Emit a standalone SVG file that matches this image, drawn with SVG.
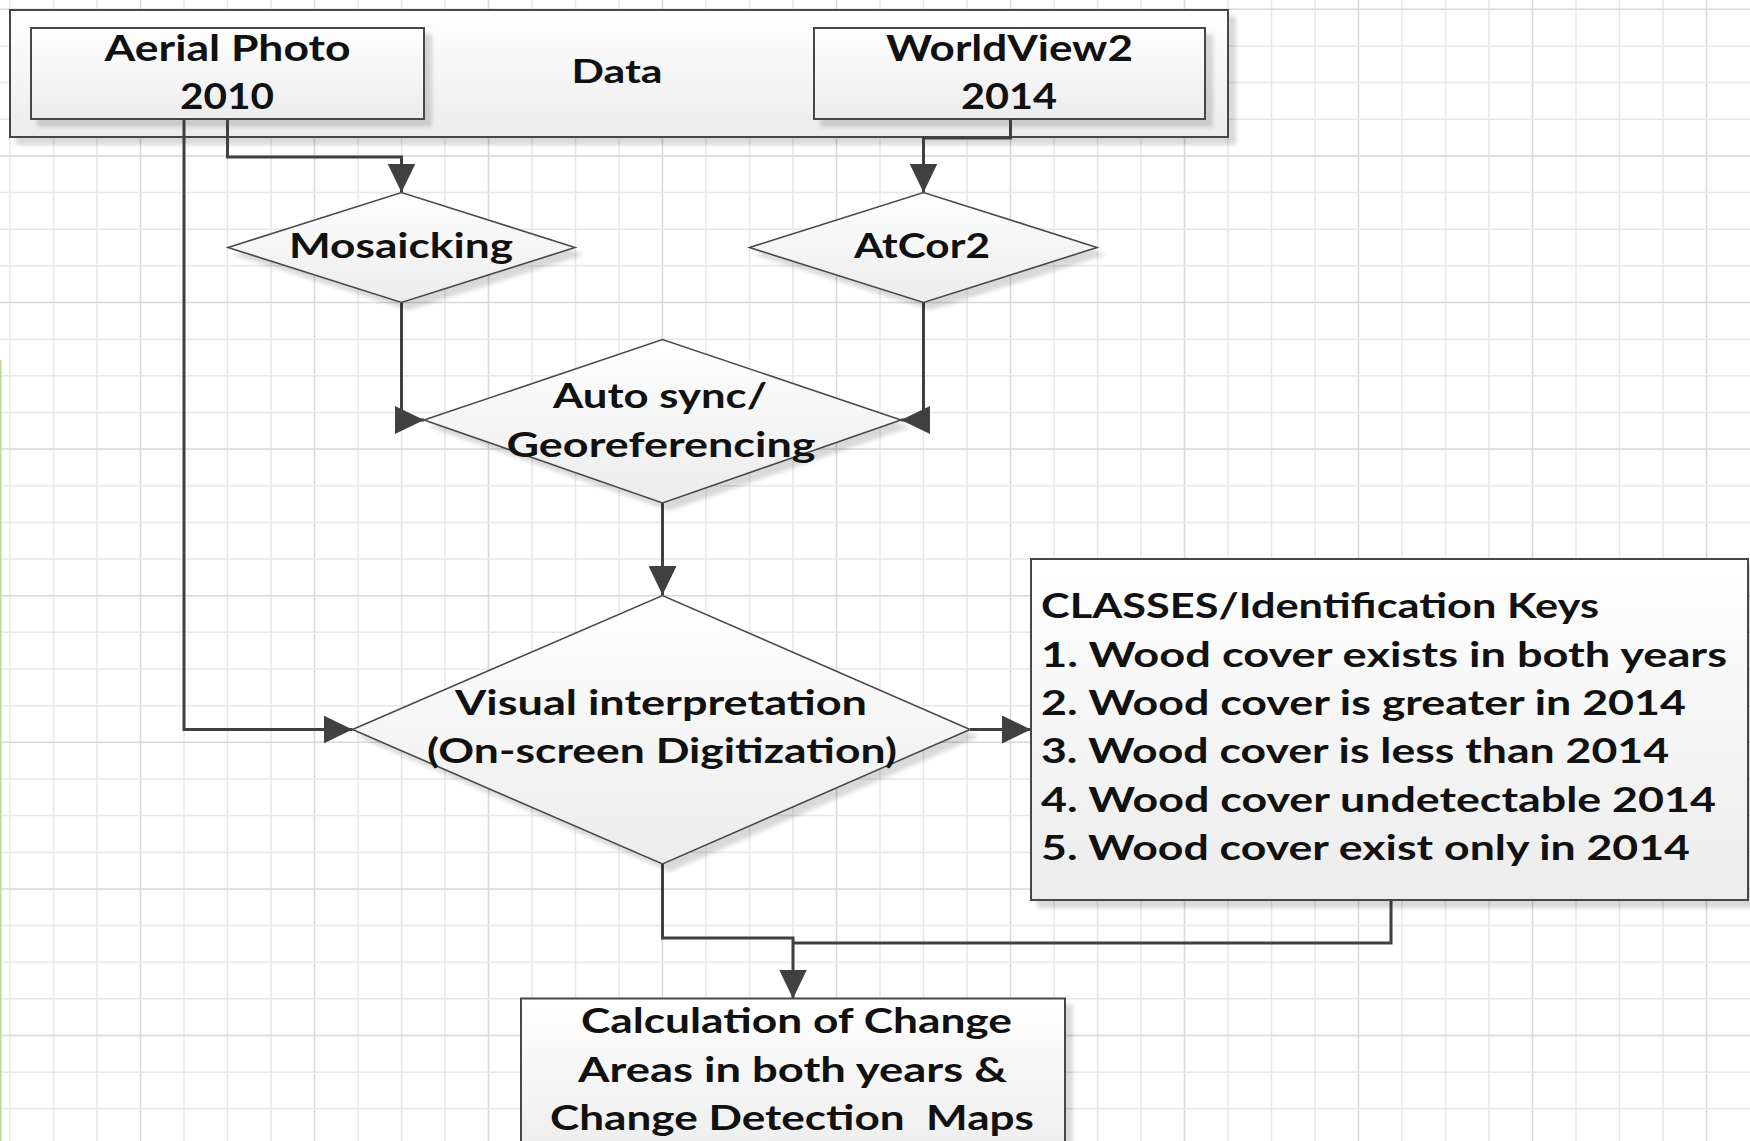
<svg xmlns="http://www.w3.org/2000/svg" width="1750" height="1141" viewBox="0 0 1750 1141">
<style>
.grid{fill:none;stroke:#e7e7e7;stroke-width:1.5}
.grid2{fill:none;stroke:#d8d8d8;stroke-width:1.5}
.box{fill:url(#fillg);stroke:#474747;stroke-width:2}
.dia{fill:url(#fillg);stroke:#4a4a4a;stroke-width:1.6}
.t{font-family:Lato,"Open Sans","Noto Sans",sans-serif;font-weight:700;font-size:34px;fill:#111111;text-anchor:middle}
.tl{text-anchor:start}
.big{font-size:36px}
.conn{fill:none;stroke:#404040;stroke-width:3;stroke-linejoin:miter}
</style>
<defs>
<linearGradient id="fillg" x1="0" y1="0" x2="0" y2="1">
<stop offset="0" stop-color="#ffffff"/>
<stop offset="1" stop-color="#ececec"/>
</linearGradient>
<filter id="sh" x="-5%" y="-10%" width="115%" height="130%">
<feGaussianBlur in="SourceAlpha" stdDeviation="2"/>
<feOffset dx="7" dy="7"/>
<feComponentTransfer><feFuncA type="linear" slope="0.15"/></feComponentTransfer>
<feMerge><feMergeNode/><feMergeNode in="SourceGraphic"/></feMerge>
</filter>
<marker id="arr" markerUnits="userSpaceOnUse" markerWidth="30" markerHeight="28" refX="29" refY="14" orient="auto">
<path d="M0,0 L29,14 L0,28 z" fill="#404040"/>
</marker>
</defs>
<rect width="1750" height="1141" fill="#ffffff"/>
<g id="grid">
<path class="grid" d="M10,0V1141M53.5,0V1141M97,0V1141M184,0V1141M227.5,0V1141M271,0V1141M358,0V1141M401.5,0V1141M445,0V1141M532,0V1141M575.5,0V1141M619,0V1141M706,0V1141M749.5,0V1141M793,0V1141M880,0V1141M923.5,0V1141M967,0V1141M1054,0V1141M1097.5,0V1141M1141,0V1141M1228,0V1141M1271.5,0V1141M1315,0V1141M1402,0V1141M1445.5,0V1141M1489,0V1141M1576,0V1141M1619.5,0V1141M1663,0V1141"/>
<path class="grid2" d="M140.5,0V1141M314.5,0V1141M488.5,0V1141M662.5,0V1141M836.5,0V1141M1010.5,0V1141M1184.5,0V1141M1358.5,0V1141M1532.5,0V1141M1706.5,0V1141"/>
<path class="grid" d="M0,45.95H1750M0,82.6H1750M0,119.25H1750M0,192.55H1750M0,229.2H1750M0,265.85H1750M0,339.15H1750M0,375.8H1750M0,412.45H1750M0,485.75H1750M0,522.4H1750M0,559.05H1750M0,632.35H1750M0,669H1750M0,705.65H1750M0,778.95H1750M0,815.6H1750M0,852.25H1750M0,925.55H1750M0,962.2H1750M0,998.85H1750M0,1072.15H1750M0,1108.8H1750"/>
<path class="grid2" d="M0,9.3H1750M0,155.9H1750M0,302.5H1750M0,449.1H1750M0,595.7H1750M0,742.3H1750M0,888.9H1750M0,1035.5H1750"/>
<line x1="0.8" y1="360" x2="0.8" y2="1141" stroke="#c2d9a0" stroke-width="1.6"/>
</g>
<g id="data">
<rect class="box" x="10" y="10" width="1218" height="127" filter="url(#sh)"/>
<text class="t" x="617" y="83" textLength="91" lengthAdjust="spacingAndGlyphs" style="font-size:32px">Data</text>
</g>
<g id="aerial">
<rect class="box" x="31" y="28" width="393" height="91" filter="url(#sh)"/>
<text class="t big" x="227.5" y="61" textLength="246" lengthAdjust="spacingAndGlyphs">Aerial Photo</text>
<text class="t big" x="227" y="109" textLength="94" lengthAdjust="spacingAndGlyphs">2010</text>
</g>
<g id="worldview">
<rect class="box" x="814" y="28" width="391" height="91" filter="url(#sh)"/>
<text class="t big" x="1009.5" y="61" textLength="247" lengthAdjust="spacingAndGlyphs">WorldView2</text>
<text class="t big" x="1009" y="109" textLength="96" lengthAdjust="spacingAndGlyphs">2014</text>
</g>
<g id="connectors">
<path class="conn" d="M227.5,119 V157 H401.5 V192.5" marker-end="url(#arr)"/>
<path class="conn" d="M1010.5,119 V138 H923.5 V192.5" marker-end="url(#arr)"/>
<path class="conn" d="M401.5,302.5 V420 H424" marker-end="url(#arr)"/>
<path class="conn" d="M923.5,302.5 V420 H901" marker-end="url(#arr)"/>
<path class="conn" d="M662.5,503 V595" marker-end="url(#arr)"/>
<path class="conn" d="M184,119 V729.5 H352.5" marker-end="url(#arr)"/>
<path class="conn" d="M970,729.5 H1031" marker-end="url(#arr)"/>
<path class="conn" d="M662.5,864 V938 H793 V998.5" marker-end="url(#arr)"/>
<path class="conn" d="M1391,900 V943 H793"/>
</g>
<g id="mosaicking">
<polygon class="dia" points="228,247.5 401.5,192.5 575,247.5 401.5,302.5" filter="url(#sh)"/>
<text class="t" x="401" y="258" textLength="224" lengthAdjust="spacingAndGlyphs">Mosaicking</text>
</g>
<g id="atcor2">
<polygon class="dia" points="749.5,247.5 923.5,192.5 1097,247.5 923.5,302.5" filter="url(#sh)"/>
<text class="t" x="922" y="258" textLength="136" lengthAdjust="spacingAndGlyphs">AtCor2</text>
</g>
<g id="autosync">
<polygon class="dia" points="424,420 662.5,339.5 901,420 662.5,503" filter="url(#sh)"/>
<text class="t" x="660" y="408" textLength="214" lengthAdjust="spacingAndGlyphs">Auto sync/</text>
<text class="t" x="661" y="457" textLength="309" lengthAdjust="spacingAndGlyphs">Georeferencing</text>
</g>
<g id="visual">
<polygon class="dia" points="352.5,729.5 662.5,595.5 970,729.5 662.5,864" filter="url(#sh)"/>
<text class="t" x="661" y="715" textLength="412" lengthAdjust="spacingAndGlyphs">Visual interpretation</text>
<text class="t" x="662" y="763" textLength="470" lengthAdjust="spacingAndGlyphs">(On-screen Digitization)</text>
</g>
<g id="classes">
<rect class="box" x="1031" y="559" width="717" height="341" filter="url(#sh)"/>
<text class="t tl" x="1041" y="618" textLength="558" lengthAdjust="spacingAndGlyphs">CLASSES/Identification Keys</text>
<text class="t tl" x="1041" y="667" textLength="686" lengthAdjust="spacingAndGlyphs">1. Wood cover exists in both years</text>
<text class="t tl" x="1041" y="715" textLength="645" lengthAdjust="spacingAndGlyphs">2. Wood cover is greater in 2014</text>
<text class="t tl" x="1041" y="763" textLength="628" lengthAdjust="spacingAndGlyphs">3. Wood cover is less than 2014</text>
<text class="t tl" x="1041" y="812" textLength="675" lengthAdjust="spacingAndGlyphs">4. Wood cover undetectable 2014</text>
<text class="t tl" x="1041" y="860" textLength="649" lengthAdjust="spacingAndGlyphs">5. Wood cover exist only in 2014</text>
</g>
<g id="calculation">
<rect class="box" x="521" y="998.5" width="544" height="170" filter="url(#sh)"/>
<text class="t" x="796.5" y="1033" textLength="431" lengthAdjust="spacingAndGlyphs">Calculation of Change</text>
<text class="t" x="792.5" y="1082" textLength="429" lengthAdjust="spacingAndGlyphs">Areas in both years &amp;</text>
<text class="t" x="792" y="1130" textLength="484" lengthAdjust="spacingAndGlyphs" style="white-space:pre">Change Detection  Maps</text>
</g>
</svg>
